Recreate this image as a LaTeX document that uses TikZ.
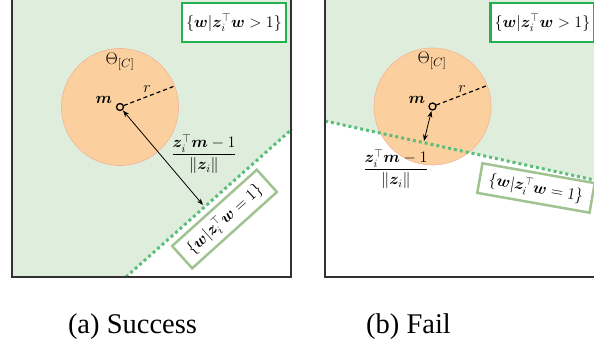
\documentclass[tikz,border=0pt]{standalone}
\usepackage{fix-cm}
\usepackage{amsmath,amssymb}
\usepackage{bm}
\usepackage{fontspec}
\setmainfont{Liberation Serif}
\usepackage{tikz}
\usetikzlibrary{arrows.meta, positioning, calc}
\definecolor{regiongreen}{RGB}{222,237,220}
\definecolor{ballorange}{RGB}{252,208,158}
\definecolor{balledge}{RGB}{243,180,150}
\definecolor{sepgreen}{RGB}{92,190,122}
\definecolor{posgreen}{RGB}{34,177,76}
\definecolor{eqgreen}{RGB}{160,195,145}
\definecolor{framegray}{RGB}{50,50,50}

\begin{document}
\begin{tikzpicture}[
    x=1pt, y=-1pt,
    frame/.style={draw=framegray, line width=2pt},
    ball/.style={circle, fill=ballorange, draw=balledge, line width=0.6pt,
                 minimum size=117pt, inner sep=0pt, outer sep=0pt},
    sep/.style={draw=sepgreen, line width=3pt, dash pattern=on 3pt off 3pt},
    posbox/.style={draw=posgreen, line width=2.5pt, fill=white, minimum width=104pt,
                   minimum height=39pt, inner sep=2pt, font=\fontsize{16}{19}\selectfont},
    eqbox/.style={draw=eqgreen, line width=2.5pt, fill=white, minimum width=114pt,
                  minimum height=30pt, inner sep=2pt, font=\fontsize{16}{19}\selectfont},
    lbl/.style={font=\fontsize{16}{19}\selectfont, inner sep=0pt},
    captext/.style={font=\fontsize{28.5}{33}\selectfont, inner sep=0pt},
    arr/.style={Stealth-Stealth, line width=0.8pt, shorten <=0.5pt},
    rad/.style={line width=1.2pt, dash pattern=on 4pt off 3pt},
    mdot/.style={circle, draw, line width=1.3pt, fill=ballorange, inner sep=0pt, minimum size=7pt},
]
    \useasboundingbox (0,0) rectangle (594,347);
    \clip (0,0) rectangle (594,347);

    \coordinate (sepa1) at (126,277);
    \coordinate (sepa2) at (292,129);
    \fill[regiongreen] (12,-10) -- (291,-10) -- (sepa2) -- (sepa1) -- (12,277) -- cycle;
    \draw[sep] (sepa1) -- (sepa2);

    \node[ball] (balla) at (120,107) {};
    \node[mdot] (ma) at (balla.center) {};
    \draw[rad] (ma) -- (balla.21);
    \node[lbl, font=\fontsize{17}{20}\selectfont] (thetaa) at (120,62) {$\Theta_{[C]}$};
    \node[lbl] (mlbla) at (104,100) {$\bm{m}$};
    \node[lbl] (rlbla) at (147,89) {$r$};

    \coordinate (fa) at (203,205);
    \draw[arr] (ma) -- (fa);
    \node[lbl] (dista) at (204,154) {$\dfrac{\bm{z}_i^\top\bm{m}-1}{\|\bm{z}_i\|}$};

    \node[posbox] (gta) at (234,22.5) {$\{\bm{w}|\bm{z}_i^\top\bm{w}>1\}$};
    \node[eqbox, rotate=42] (eqa) at (224.5,219) {$\{\bm{w}|\bm{z}_i^\top\bm{w}=1\}$};
    \draw[frame] (12,-10) rectangle (291,277);

    \coordinate (sepb1) at (325,121);
    \coordinate (sepb2) at (600,181.3);
    \fill[regiongreen] (325,-10) -- (600,-10) -- (sepb2) -- (sepb1) -- cycle;

    \node[ball] (ballb) at (432.5,106.5) {};
    \draw[sep] (sepb1) -- (sepb2);
    \node[mdot] (mb) at (ballb.center) {};
    \draw[rad] (mb) -- (ballb.21);
    \node[lbl, font=\fontsize{17}{20}\selectfont] (thetab) at (432,61) {$\Theta_{[C]}$};
    \node[lbl] (mlblb) at (417,100) {$\bm{m}$};
    \node[lbl] (rlblb) at (462,89) {$r$};

    \coordinate (fb) at (424,141);
    \draw[arr] (mb) -- (fb);
    \node[lbl] (distb) at (396,169) {$\dfrac{\bm{z}_i^\top\bm{m}-1}{\|\bm{z}_i\|}$};

    \node[posbox] (gtb) at (542.5,22.5) {$\{\bm{w}|\bm{z}_i^\top\bm{w}>1\}$};
    \node[eqbox, rotate=-10] (eqb) at (536,188) {$\{\bm{w}|\bm{z}_i^\top\bm{w}=1\}$};
    \draw[frame] (325,-10) rectangle (610,277);

    \node[captext] (capa) at (132.5,327) {(a) Success};
    \node[captext] (capb) at (408.5,327) {(b) Fail};
\end{tikzpicture}
\end{document}
